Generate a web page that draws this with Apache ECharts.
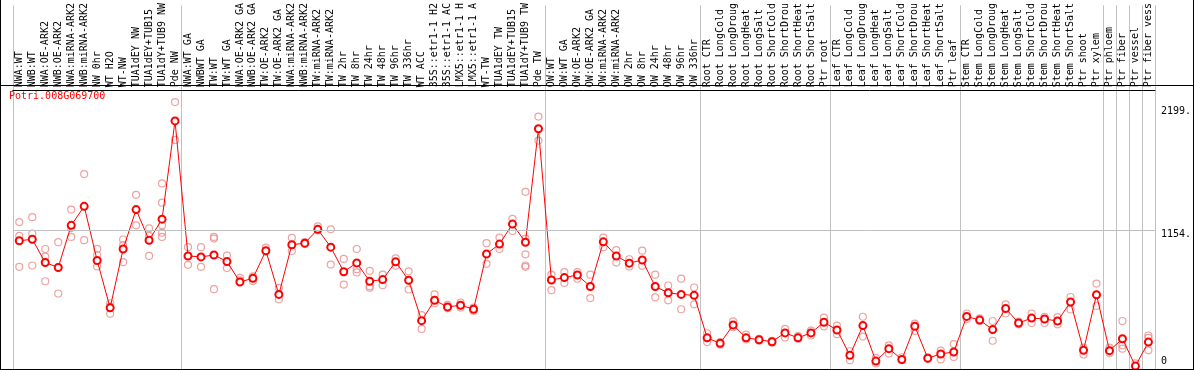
<!DOCTYPE html>
<html>
<head>
<meta charset="utf-8">
<script src="https://cdn.jsdelivr.net/npm/echarts@6/dist/echarts.min.js"></script>
<style>
  body { margin: 0; background: #fff; }
  #wrap { position: relative; width: 1194px; height: 370px; }
  #chart { position: absolute; left: 0; top: 0; width: 1194px; height: 370px; }
  #frame { position: absolute; left: 0; top: 0; width: 1194px; height: 370px; box-sizing: border-box;
    border: 1px solid #000; border-top: none; pointer-events: none; }
  #sep { position: absolute; left: 0; top: 85px; width: 1194px; height: 1px; background: #000; pointer-events: none; }
</style>
</head>
<body>
<div id="wrap">
  <div id="chart"></div>
  <div id="frame"></div>
  <div id="sep"></div>
</div>
<script>
const geneName = 'Potri.008G069700'

const categories = [
  'NWA:WT', 'NWB:WT', 'NWA:OE-ARK2', 'NWB:OE-ARK2', 'NWA:miRNA-ARK2', 'NWB:miRNA-ARK2',
  'NW 0hr', 'WT H2O', 'WT-NW', 'TUA1dEY NW', 'TUA1dEY+TUB15', 'TUA1dY+TUB9 NW', 'Pde NW',
  'NWA:WT GA', 'NWBWT GA', 'TW:WT', 'TW:WT GA', 'NWA:OE-ARK2 GA', 'NWB:OE-ARK2 GA',
  'TW:OE-ARK2', 'TW:OE-ARK2 GA', 'NWA:miRNA-ARK2', 'NWB:miRNA-ARK2', 'TW:miRNA-ARK2',
  'TW:miRNA-ARK2', 'TW 2hr', 'TW 8hr', 'TW 24hr', 'TW 48hr', 'TW 96hr', 'TW 336hr', 'WT ACC',
  '35S::etr1-1 H2', '35S::etr1-1 AC', 'LMX5::etr1-1 H', 'LMX5::etr1-1 A', 'WT-TW',
  'TUA1dEY TW', 'TUA1dEY+TUB15', 'TUA1dY+TUB9 TW', 'Pde TW',
  'OW:WT', 'OW:WT GA', 'OW:OE-ARK2', 'OW:OE-ARK2 GA', 'OW:miRNA-ARK2', 'OW:miRNA-ARK2',
  'OW 2hr', 'OW 8hr', 'OW 24hr', 'OW 48hr', 'OW 96hr', 'OW 336hr',
  'Root CTR', 'Root LongCold', 'Root LongDroug', 'Root LongHeat', 'Root LongSalt',
  'Root ShortCold', 'Root ShortDrou', 'Root ShortHeat', 'Root ShortSalt', 'Ptr root',
  'Leaf CTR', 'Leaf LongCold', 'Leaf LongDroug', 'Leaf LongHeat', 'Leaf LongSalt',
  'Leaf ShortCold', 'Leaf ShortDrou', 'Leaf ShortHeat', 'Leaf ShortSalt', 'Ptr leaf',
  'Stem CTR', 'Stem LongCold', 'Stem LongDroug', 'Stem LongHeat', 'Stem LongSalt',
  'Stem ShortCold', 'Stem ShortDrou', 'Stem ShortHeat', 'Stem ShortSalt', 'Ptr shoot',
  'Ptr xylem', 'Ptr phloem', 'Ptr fiber', 'Ptr vessel', 'Ptr fiber vess'
]

// first category of every sample group (a grey separator is drawn on its left)
const groupStarts = [0, 13, 41, 53, 63, 73, 84, 85, 86, 87]

const meanValues = [
  1065, 1078, 880, 838, 1196, 1358, 897, 495, 995, 1330, 1070, 1249, 2084,
  936, 928, 944, 889, 715, 746, 981, 609, 1031, 1045, 1162, 1011, 802, 877, 721,
  735, 886, 729, 386, 559, 503, 517, 483, 953, 1037, 1207, 1053, 2017,
  732, 752, 774, 676, 1056, 936, 875, 902, 676, 623, 609, 601,
  240, 193, 349, 240, 224, 207, 282, 240, 282, 372,
  307, 92, 344, 42, 148, 56, 338, 67, 103, 120,
  422, 391, 310, 489, 366, 408, 400, 383, 545, 134, 606,
  131, 232, 0, 204
]

const replicates = [
  [1224, 1106, 844], [1266, 1126, 855], [995, 930, 721], [1053, 617, 840],
  [1330, 1173, 1098], [1632, 1070], [997, 944, 847], [534, 444, 506],
  [1076, 1028, 883], [1456, 1196], [1171, 1106, 936], [1553, 1389, 1196, 1134, 1098],
  [2244, 1922],
  [1011, 861], [1011, 844], [1098, 1084, 654], [939, 833], [749, 729], [763, 724],
  [1006, 972], [665, 567], [1090, 978], [1053, 1037], [1187, 1154], [1162, 863],
  [911, 693], [995, 824, 796], [810, 679, 665], [777, 687], [916, 852], [805, 651],
  [433, 316], [609, 534], [520, 492], [539, 497], [497, 469], [1045, 869],
  [1092, 995], [1252, 1148], [1481, 1084, 950, 855, 844], [2121, 1917],
  [777, 645], [799, 707], [799, 743], [777, 578], [1092, 1009], [986, 880],
  [908, 847], [981, 852], [777, 584], [685, 559], [743, 483], [668, 525],
  [279, 204], [204, 182], [380, 330], [268, 226], [232, 215], [215, 198],
  [316, 243], [254, 232], [302, 260], [411, 338],
  [344, 271], [126, 50], [419, 251], [70, 22], [176, 106], [75, 50],
  [360, 299], [75, 59], [131, 56], [187, 78],
  [447, 400], [405, 383], [383, 215], [525, 447], [377, 355], [447, 366],
  [419, 366], [416, 355], [587, 481], [156, 98], [701, 511],
  [156, 112], [383, 176, 148], [22], [260, 240, 134]
]

const yTickValues = [0, 1154, 2199]
const yTickLabels = ['0', '1154.', '2199.']
const gridLineValues = [1154]

const font = 'DejaVu Sans Mono'

const repPoints = []
replicates.forEach((reps, i) => {
  reps.forEach(v => repPoints.push([i, v]))
})

let myChart = echarts.init(document.getElementById('chart'))
myChart.setOption({
  animation: false,
  title: {
    text: geneName,
    left: 9,
    top: 91,
    padding: 0,
    textStyle: {
      color: '#ff0000',
      fontFamily: font,
      fontSize: 10,
      fontWeight: 'normal'
    }
  },
  grid: {
    left: 12.8,
    right: 37.2,
    top: 0,
    bottom: 1,
    containLabel: false
  },
  xAxis: {
    type: 'category',
    data: categories,
    position: 'top',
    offset: -85,
    boundaryGap: true,
    axisLine: {
      show: true,
      onZero: false,
      lineStyle: { color: '#000', width: 1 }
    },
    axisTick: { show: false },
    axisLabel: {
      interval: 0,
      rotate: -90,
      margin: 3,
      color: '#000',
      fontFamily: font,
      fontSize: 10
    },
    splitLine: {
      show: true,
      interval: (index) => groupStarts.indexOf(index) >= 0,
      lineStyle: { color: '#c0c0c0', width: 1 }
    }
  },
  yAxis: {
    type: 'value',
    position: 'right',
    min: -25,
    max: 3067,
    axisLine: { show: false },
    axisTick: { show: false },
    splitLine: { show: false },
    axisLabel: {
      customValues: yTickValues,
      margin: 6,
      color: '#000',
      fontFamily: font,
      fontSize: 10,
      formatter: (v) => {
        let text = yTickLabels[yTickValues.indexOf(v)]
        return v === 0 ? '{up|' + text + '}' : '{dn|' + text + '}'
      },
      rich: {
        up: { fontFamily: font, fontSize: 10, color: '#000', padding: [0, 0, 9, 0] },
        dn: { fontFamily: font, fontSize: 10, color: '#000', padding: [8, 0, 0, 0] }
      }
    }
  },
  series: [{
    type: 'scatter',
    name: 'replicates',
    z: 2,
    symbol: 'circle',
    symbolSize: 7,
    itemStyle: {
      color: 'rgba(0,0,0,0)',
      borderColor: '#e88c8c',
      borderWidth: 1.2
    },
    markLine: {
      silent: true,
      symbol: 'none',
      label: { show: false },
      lineStyle: { color: '#c0c0c0', type: 'solid', width: 1 },
      data: gridLineValues.map(v => ({ yAxis: v }))
    },
    data: repPoints
  }, {
    type: 'line',
    name: 'mean',
    z: 3,
    symbol: 'emptyCircle',
    symbolSize: 7,
    lineStyle: { color: '#ff0000', width: 1 },
    itemStyle: {
      color: '#ff0000',
      borderColor: '#ff0000',
      borderWidth: 1.6
    },
    data: meanValues
  }]
})
</script>
</body>
</html>
